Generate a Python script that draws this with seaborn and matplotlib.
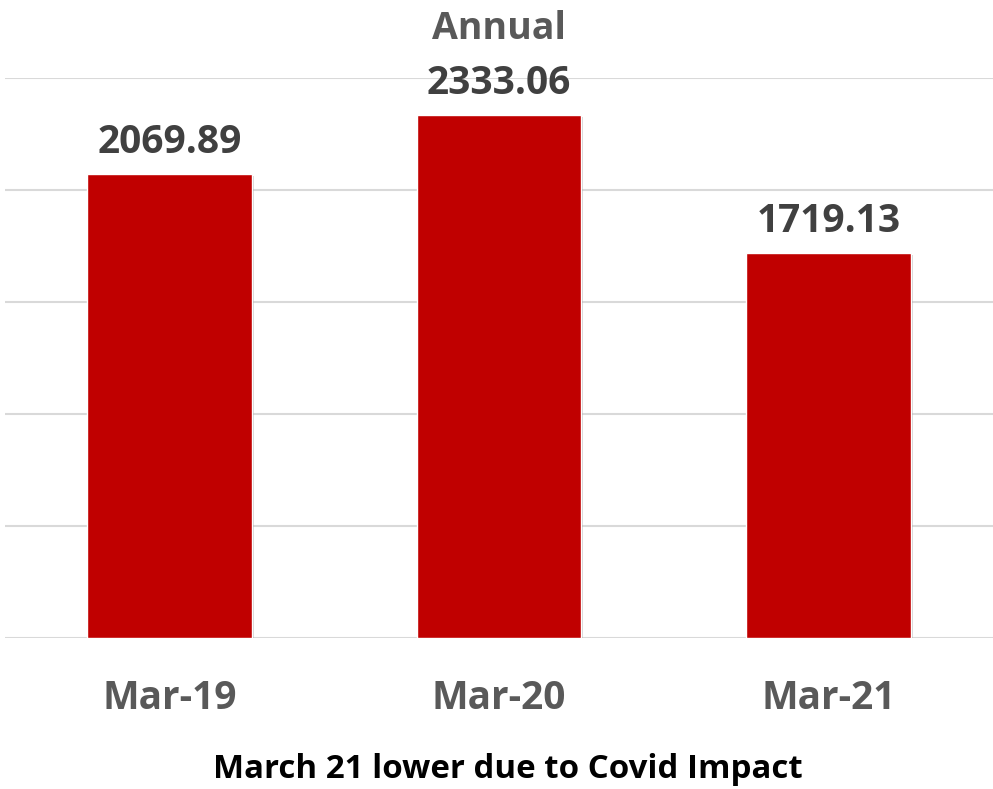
import matplotlib
matplotlib.use("Agg")
import matplotlib.pyplot as plt
import matplotlib.patheffects as pe
import seaborn as sns
import pandas as pd

categories = ["Mar-19", "Mar-20", "Mar-21"]
values = [2069.89, 2333.06, 1719.13]
labels = ["2069.89", "2333.06", "1719.13"]

sns.set_theme(style="white")
plt.rcParams['font.family'] = ['Open Sans', 'DejaVu Sans']

fig = plt.figure(figsize=(9.93, 7.89), dpi=100)
ax = fig.add_axes([5/993, 1 - 638/789, 988/993, (638 - 78)/789])

df = pd.DataFrame({"cat": categories, "val": values})
sns.barplot(data=df, x="cat", y="val", color="#C00000", width=0.5, ax=ax, saturation=1)
for p in ax.patches:
    p.set_path_effects([pe.SimplePatchShadow(offset=(1.5, -1.5), shadow_rgbFace="#808080", alpha=0.35),
                        pe.Normal()])

ax.set_ylim(0, 2500)
ax.set_yticks([0, 500, 1000, 1500, 2000, 2500])
ax.yaxis.grid(True, color="#D9D9D9", linewidth=1.5)
ax.set_axisbelow(True)
ax.set_yticklabels([])
ax.tick_params(axis="y", length=0)
ax.tick_params(axis="x", length=0, pad=51, labelsize=28, labelcolor="#595959")
for t in ax.get_xticklabels():
    t.set_fontweight("bold")
    t.set_verticalalignment("baseline")
for s in ax.spines.values():
    s.set_visible(False)
ax.set_xlabel("")
ax.set_ylabel("")

for i, (v, lab) in enumerate(zip(values, labels)):
    ax.annotate(lab, (i, v), xytext=(0, 15.4), textcoords="offset points",
                ha="center", va="baseline", fontsize=28, fontweight="bold", color="#404040")

fig.text(499/993, 1 - 39/789, "Annual", ha="center", va="baseline",
         fontsize=27, fontweight="bold", color="#595959")
fig.text(507.5/993, 1 - 778/789, "March 21 lower due to Covid Impact", ha="center", va="baseline",
         fontsize=23.8, fontweight="bold", color="#000000")

fig.savefig("out.png", dpi=100)
